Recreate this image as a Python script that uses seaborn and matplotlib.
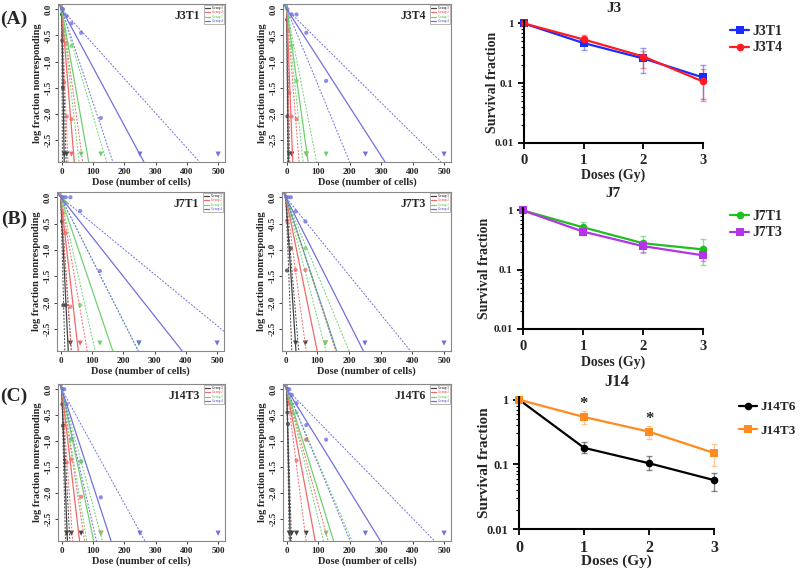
import matplotlib
matplotlib.use('Agg')
import matplotlib.pyplot as plt
import numpy as np
import pandas as pd
import seaborn as sns

# --- survival curves (right column) ---
doses_gy = [0, 1, 2, 3]

J3T1_sf = [1, 0.47, 0.26, 0.125]
J3T1_lo = [1, 0.36, 0.15, 0.055]
J3T1_hi = [1, 0.58, 0.39, 0.20]
J3T4_sf = [1, 0.54, 0.28, 0.107]
J3T4_lo = [1, 0.48, 0.18, 0.05]
J3T4_hi = [1, 0.63, 0.34, 0.17]

J7T1_sf = [1, 0.52, 0.28, 0.22]
J7T1_lo = [1, 0.43, 0.19, 0.12]
J7T1_hi = [1, 0.63, 0.37, 0.33]
J7T3_sf = [1, 0.44, 0.25, 0.175]
J7T3_lo = [1, 0.39, 0.20, 0.14]
J7T3_hi = [1, 0.50, 0.30, 0.23]

J14T6_sf = [1, 0.18, 0.104, 0.057]
J14T6_lo = [1, 0.15, 0.082, 0.039]
J14T6_hi = [1, 0.22, 0.135, 0.074]
J14T3_sf = [1, 0.54, 0.32, 0.15]
J14T3_lo = [1, 0.42, 0.25, 0.095]
J14T3_hi = [1, 0.66, 0.39, 0.21]

# --- ELDA panels: 1/frequency estimate and CI per group (black, red, green, blue) ---
group_names = ['Group 1', 'Group 2', 'Group 3', 'Group 4']

J3T1_est = [2.7, 13.7, 29.5, 90]
J3T1_cil = [0.7, 6.8, 19, 56]
J3T1_ciu = [4.8, 23, 49, 151]
J3T1_pt_dose = [1, 2, 4, 16, 31, 62, 125, 2, 8, 16, 31, 2, 4, 8, 16, 31, 1, 2, 4]
J3T1_pt_logf = [0, 0, 0, -0.13, -0.27, -0.45, -2.08, -0.05, -0.4, -0.65, -0.7,
                -0.1, -0.5, -1.4, -2.05, -2.1, -0.1, -0.6, -1.5]
J3T1_pt_grp = [3, 3, 3, 3, 3, 3, 3, 2, 2, 2, 2, 1, 1, 1, 1, 1, 0, 0, 0]
J3T1_tri_dose = [8, 16, 31, 62, 125, 250, 500]
J3T1_tri_grp = [0, 0, 1, 2, 2, 3, 3]

J3T4_est = [1.7, 6.5, 23.3, 107]
J3T4_cil = [1.0, 3.1, 17.8, 68.5]
J3T4_ciu = [3.1, 13.4, 32.5, 168]
J3T4_pt_dose = [2, 16, 31, 62, 125, 4, 16, 31, 4, 8, 16, 31, 1, 2]
J3T4_pt_logf = [0, -0.1, -0.1, -0.45, -1.37, -0.15, -0.7, -1.37,
                -0.4, -1.6, -2.05, -2.1, -0.2, -2.05]
J3T4_pt_grp = [3, 3, 3, 3, 3, 2, 2, 2, 1, 1, 1, 1, 0, 0]
J3T4_tri_dose = [8, 16, 62, 62, 125, 250, 500]
J3T4_tri_grp = [0, 0, 1, 2, 2, 3, 3]

J7T1_est = [8.2, 19.2, 57, 133]
J7T1_cil = [4.5, 11.6, 37.7, 85]
J7T1_ciu = [11.6, 29, 85, 205]
J7T1_pt_dose = [4, 8, 16, 31, 62, 125, 8, 16, 62, 8, 16, 31, 4, 8, 16]
J7T1_pt_logf = [0, 0, 0, 0, -0.26, -1.4, -0.05, -0.11, -2.05,
                -0.3, -0.68, -2.08, -0.46, -2.05, -2.05]
J7T1_pt_grp = [3, 3, 3, 3, 3, 3, 2, 2, 2, 1, 1, 1, 0, 0, 0]
J7T1_tri_dose = [31, 62, 125, 250, 250, 500]
J7T1_tri_grp = [0, 1, 2, 2, 3, 3]

J7T3_est = [11, 34, 55, 84]
J7T3_cil = [6.5, 22, 43.5, 55]
J7T3_ciu = [14, 54, 68.5, 135]
J7T3_pt_dose = [1, 8, 16, 31, 62, 16, 62, 4, 31, 62, 4, 16]
J7T3_pt_logf = [0, 0, 0, -0.27, -0.46, -0.35, -0.97, -0.45, -1.38, -1.38, -1.39, -0.97]
J7T3_pt_grp = [3, 3, 3, 3, 3, 2, 2, 1, 1, 1, 0, 0]
J7T3_tri_dose = [31, 62, 125, 125, 250, 500]
J7T3_tri_grp = [0, 0, 1, 2, 3, 3]

J14T3_est = [6.2, 19.5, 35, 54]
J14T3_cil = [4.1, 12, 27.4, 38]
J14T3_ciu = [8.9, 25, 44.5, 91]
J14T3_pt_dose = [2, 8, 16, 31, 62, 125, 8, 31, 62, 8, 16, 31, 62, 2, 4]
J14T3_pt_logf = [0, 0, -0.29, -0.96, -1.39, -2.08, -0.24, -0.97, -1.39,
                 -0.7, -1.41, -1.35, -2.07, -0.29, -0.7]
J14T3_pt_grp = [3, 3, 3, 3, 3, 3, 2, 2, 2, 1, 1, 1, 1, 0, 0]
J14T3_tri_dose = [16, 31, 62, 125, 125, 250, 500]
J14T3_tri_grp = [0, 0, 0, 1, 2, 3, 3]

J14T6_est = [3.8, 31, 51, 102]
J14T6_cil = [2.7, 21, 40, 69]
J14T6_ciu = [5.1, 45, 71, 161]
J14T6_pt_dose = [2, 8, 16, 31, 62, 125, 16, 31, 62, 8, 16, 31, 62, 2, 4]
J14T6_pt_logf = [0, 0, -0.11, -0.27, -0.69, -0.97, -0.29, -0.45, -0.97,
                 -0.27, -0.45, -1.37, -0.97, -0.45, -0.67]
J14T6_pt_grp = [3, 3, 3, 3, 3, 3, 2, 2, 2, 1, 1, 1, 1, 0, 0]
J14T6_tri_dose = [8, 16, 31, 62, 125, 250, 500]
J14T6_tri_grp = [0, 0, 0, 0, 2, 3, 3]

# --- style ---
sns.set_theme(style='ticks')
plt.rcParams['font.family'] = ['Liberation Serif', 'DejaVu Serif']
plt.rcParams['font.weight'] = 'bold'
plt.rcParams['axes.labelweight'] = 'bold'

elda_colors = ['#444444', '#f06868', '#70d070', '#7070e0']
TRI_Y = -2.77

fig = plt.figure(figsize=(8, 5.7), dpi=100)


def px_axes(l, t, r, b):
    return fig.add_axes([l / 800, 1 - b / 570, (r - l) / 800, (b - t) / 570])


def elda_panel(box, title, est, cil, ciu, pd_, pl_, pg_, td_, tg_):
    ax = px_axes(*box)
    handles = []
    for g in range(4):
        c = elda_colors[g]
        h = ax.axline((0, 0), slope=-1 / est[g], color=c, lw=0.9, label=group_names[g])
        handles.append(h)
        ax.axline((0, 0), slope=-1 / cil[g], color=c, lw=0.7, ls=(0, (2, 1.5)))
        ax.axline((0, 0), slope=-1 / ciu[g], color=c, lw=0.7, ls=(0, (2, 1.5)))
    pts = pd.DataFrame({'dose': pd_, 'logf': pl_, 'grp': pg_})
    sns.scatterplot(data=pts, x='dose', y='logf', hue='grp', palette=dict(enumerate(elda_colors)),
                    s=9, alpha=0.8, linewidth=0, legend=False, ax=ax)
    tri = pd.DataFrame({'dose': td_, 'y': [TRI_Y] * len(td_), 'grp': tg_})
    sns.scatterplot(data=tri, x='dose', y='y', hue='grp', palette=dict(enumerate(elda_colors)),
                    marker='v', s=14, linewidth=0, legend=False, ax=ax)
    ax.set_xlim(-12, 522)
    ax.set_ylim(-2.92, 0.1)
    ax.set_xticks([0, 100, 200, 300, 400, 500])
    ax.set_yticks([0, -0.5, -1, -1.5, -2, -2.5])
    ax.set_yticklabels(['0.0', '-0.5', '-1.0', '-1.5', '-2.0', '-2.5'], rotation=90, va='center')
    ax.tick_params(labelsize=6.5, length=2.5, width=0.6, pad=1.5, colors='#222222')
    for s in ax.spines.values():
        s.set_color('#888888')
        s.set_linewidth(0.8)
    ax.set_xlabel('Dose (number of cells)', fontsize=7.5, labelpad=1)
    ax.set_ylabel('log fraction nonresponding', fontsize=7.5, labelpad=2)
    w = box[2] - box[0]
    ax.text(1 - 25 / w, 0.925, title, transform=ax.transAxes, ha='right', va='center',
            fontsize=8.5, fontweight='bold')
    leg = ax.legend(handles=handles, loc='upper right', fontsize=2.2, handlelength=1.6,
                    borderpad=0.4, labelspacing=0.15, fancybox=False, framealpha=1,
                    edgecolor='#999999', borderaxespad=0.2)
    leg.get_frame().set_linewidth(0.5)
    for t, c in zip(leg.get_texts(), elda_colors):
        t.set_color(c)
    return ax


elda_panel((58, 4, 225, 162), 'J3T1', J3T1_est, J3T1_cil, J3T1_ciu,
           J3T1_pt_dose, J3T1_pt_logf, J3T1_pt_grp, J3T1_tri_dose, J3T1_tri_grp)
elda_panel((283, 4, 451, 162), 'J3T4', J3T4_est, J3T4_cil, J3T4_ciu,
           J3T4_pt_dose, J3T4_pt_logf, J3T4_pt_grp, J3T4_tri_dose, J3T4_tri_grp)
elda_panel((57, 192, 224, 351), 'J7T1', J7T1_est, J7T1_cil, J7T1_ciu,
           J7T1_pt_dose, J7T1_pt_logf, J7T1_pt_grp, J7T1_tri_dose, J7T1_tri_grp)
elda_panel((282, 192, 451, 351), 'J7T3', J7T3_est, J7T3_cil, J7T3_ciu,
           J7T3_pt_dose, J7T3_pt_logf, J7T3_pt_grp, J7T3_tri_dose, J7T3_tri_grp)
elda_panel((58, 384, 225, 541), 'J14T3', J14T3_est, J14T3_cil, J14T3_ciu,
           J14T3_pt_dose, J14T3_pt_logf, J14T3_pt_grp, J14T3_tri_dose, J14T3_tri_grp)
elda_panel((283, 384, 451, 541), 'J14T6', J14T6_est, J14T6_cil, J14T6_ciu,
           J14T6_pt_dose, J14T6_pt_logf, J14T6_pt_grp, J14T6_tri_dose, J14T6_tri_grp)


def surv_panel(box, title, title_y, names, sfs, los, his, colors, markers,
               leg_xy, ylab_x, xlab_y, fs=9.5, leg_fs=10, leg_space=0.3):
    ax = px_axes(*box)
    df = pd.DataFrame({'dose': doses_gy * 2, 'sf': sfs[0] + sfs[1],
                       'line': [names[0]] * 4 + [names[1]] * 4})
    for m, lo, hi, c in zip(sfs, los, his, colors):
        m, lo, hi = np.array(m), np.array(lo), np.array(hi)
        ax.errorbar(doses_gy, m, yerr=[m - lo, hi - m], fmt='none', ecolor=c, alpha=0.45,
                    elinewidth=1.0, capsize=2.5, capthick=1.0, clip_on=False)
    sns.lineplot(data=df, x='dose', y='sf', hue='line', style='line',
                 palette=dict(zip(names, colors)), markers=dict(zip(names, markers)),
                 dashes=False, lw=1.6, markersize=5.5, markeredgewidth=0, ax=ax, clip_on=False)
    ax.set_yscale('log')
    ax.set_xlim(0, 3)
    ax.set_ylim(0.01, 1.1)
    ax.set_xticks([0, 1, 2, 3])
    ax.set_xticklabels(['0', '1', '2', '3'], fontsize=fs + 1)
    ax.set_yticks([0.01, 0.1, 1])
    ax.set_yticklabels(['0.01', '0.1', '1'], fontsize=fs - 1.5)
    ax.tick_params(axis='both', which='major', length=4, width=1.3, color='black')
    ax.tick_params(axis='y', which='minor', length=2, width=0.8, color='black')
    ax.tick_params(axis='x', pad=4)
    sns.despine(ax=ax)
    ax.spines['left'].set_linewidth(1.5)
    ax.spines['bottom'].set_linewidth(1.5)
    ax.spines['left'].set_color('black')
    ax.spines['bottom'].set_color('black')
    w = box[2] - box[0]
    hgt = box[3] - box[1]
    ax.set_xlabel('Doses (Gy)', fontsize=fs + 0.5)
    ax.set_ylabel('Survival fraction', fontsize=fs + 0.5)
    ax.yaxis.set_label_coords((ylab_x - box[0]) / w, 0.5)
    ax.xaxis.set_label_coords(0.5, -(xlab_y - box[3]) / hgt)
    ax.xaxis.label.set_va('center')
    ax.yaxis.label.set_va('center')
    cx = (box[0] + box[2]) / 2
    fig.text(cx / 800, 1 - title_y / 570, title, ha='center', va='center',
             fontsize=fs + 1.5, fontweight='bold')
    h, l = ax.get_legend_handles_labels()
    ax.legend(h, l, loc='upper left', bbox_to_anchor=(leg_xy[0] / 800, 1 - leg_xy[1] / 570),
              bbox_transform=fig.transFigure, frameon=False, fontsize=leg_fs,
              handlelength=1.4, handletextpad=0.2, labelspacing=leg_space, borderaxespad=0,
              borderpad=0)
    return ax


surv_panel((524, 21, 703, 143), 'J3', 9, ['J3T1', 'J3T4'], [J3T1_sf, J3T4_sf],
           [J3T1_lo, J3T4_lo], [J3T1_hi, J3T4_hi], ['#1a2cff', '#ff1a24'], ['s', 'o'],
           (730, 25), 492, 175, leg_space=0.25)
surv_panel((523, 208, 703, 329), 'J7', 194, ['J7T1', 'J7T3'], [J7T1_sf, J7T3_sf],
           [J7T1_lo, J7T3_lo], [J7T1_hi, J7T3_hi], ['#1fbf1f', '#b235e6'], ['o', 's'],
           (730, 210), 485, 362, leg_space=0.25)
ax14 = surv_panel((519, 397, 714, 529), 'J14', 382, ['J14T6', 'J14T3'], [J14T6_sf, J14T3_sf],
                  [J14T6_lo, J14T3_lo], [J14T6_hi, J14T3_hi], ['#000000', '#ff8a1f'], ['o', 's'],
                  (739, 401), 484, 561, fs=10.5, leg_fs=9.5, leg_space=0.85)

# significance marks
ax14.text(1, 0.85, '*', ha='center', va='center', fontsize=12, fontweight='bold')
ax14.text(2, 0.50, '*', ha='center', va='center', fontsize=12, fontweight='bold')

# panel letters
fig.text(14 / 800, 1 - 19 / 570, '(A)', ha='center', va='center', fontsize=14, fontweight='bold')
fig.text(14 / 800, 1 - 219 / 570, '(B)', ha='center', va='center', fontsize=14, fontweight='bold')
fig.text(14 / 800, 1 - 396 / 570, '(C)', ha='center', va='center', fontsize=14, fontweight='bold')

fig.savefig('out.png', dpi=100)
